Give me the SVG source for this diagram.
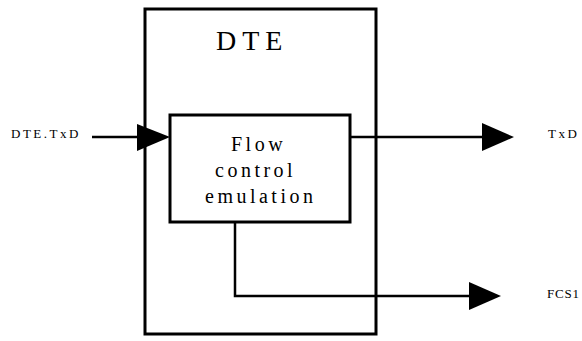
<svg xmlns="http://www.w3.org/2000/svg" width="582" height="341" viewBox="0 0 582 341">
<style>
.box{fill:none;stroke:#000;stroke-width:3}
.ln{fill:none;stroke:#000;stroke-width:2.5}
.ah{fill:#000;stroke:none}
text{font-family:"Liberation Serif","DejaVu Serif","Times New Roman",serif;fill:#000}
.big{font-size:28px;letter-spacing:6px}
.mid{font-size:20px;letter-spacing:3.5px}
.sm{font-size:13px;letter-spacing:2.5px}
</style>
<rect width="582" height="341" fill="#fff"/>
<g id="dte">
<rect class="box" x="145" y="9" width="231" height="325"/>
<text class="big" x="216" y="50">DTE</text>
</g>
<g id="fce">
<rect class="box" x="170" y="115" width="180" height="107" fill="#fff"/>
<text class="mid" x="231" y="151">Flow</text>
<text class="mid" x="215" y="177">control</text>
<text class="mid" x="205" y="203">emulation</text>
</g>
<g id="labels">
<text class="sm" x="11" y="138">DTE.TxD</text>
<text class="sm" x="548" y="138">TxD</text>
<text class="sm" x="547" y="298" style="letter-spacing:0.8px">FCS1</text>
</g>
<g id="connectors">
<line class="ln" x1="92" y1="137" x2="140" y2="137"/>
<polygon class="ah" points="137,124 170,137 137,151"/>
<line class="ln" x1="349" y1="137" x2="485" y2="137"/>
<polygon class="ah" points="482,123 514,137 482,151"/>
<polyline class="ln" points="235,222 235,296 472,296"/>
<polygon class="ah" points="469,282 501,296 469,310"/>
</g>
</svg>
